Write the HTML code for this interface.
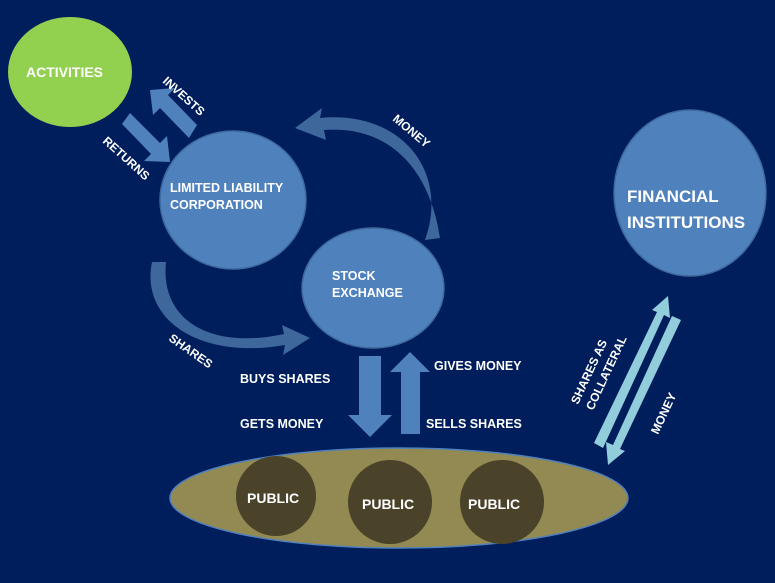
<!DOCTYPE html>
<html><head><style>
body{margin:0;background:#001d5c;}
svg{display:block}
text{font-family:"Liberation Sans",Arial,sans-serif;font-weight:bold;fill:#fff}
</style></head><body>
<svg width="775" height="583" viewBox="0 0 775 583" xmlns="http://www.w3.org/2000/svg">
<rect width="775" height="583" fill="#001d5c"/>
<!-- curved arrows -->
<path d="M425,240 C450,170 400,110 320,118 L322,108 L295,128 L326,140 L324,130 C390,125 430,170 440,238 Z" fill="#3e679c"/>
<path d="M152,262 C140,320 200,360 285,345 L283,355 L310,338 L282,325 L284,334 C210,350 160,320 166,262 Z" fill="#3e679c"/>
<!-- invests / returns -->
<polygon points="197,125 168,95 175,88 150,90 153,115 160,108 189,138" fill="#4f81bd"/>
<polygon points="122,124 151,154 144,161 170,162 167,136 160,143 130,113" fill="#4f81bd"/>
<!-- down / up arrows -->
<polygon points="359,356 381,356 381,415 392,415 370,437 348,415 359,415" fill="#4f81bd"/>
<polygon points="401,434 420,434 420,372 430,372 410,352 390,372 401,372" fill="#4f81bd"/>
<!-- light blue arrows -->
<polygon points="594,443 603,448 664,315 670,318 668,296 652,310 657,312" fill="#92cddc"/>
<polygon points="681,320 672,316 613,445 606,442 608,465 625,451 620,449" fill="#92cddc"/>
<!-- nodes -->
<ellipse cx="70" cy="72" rx="62" ry="55" fill="#92d050"/>
<ellipse cx="233" cy="200" rx="73" ry="69" fill="#4f81bd" stroke="#3d6a9e" stroke-width="1.5"/>
<ellipse cx="373" cy="288" rx="71" ry="60" fill="#4f81bd" stroke="#3d6a9e" stroke-width="1.5"/>
<ellipse cx="690" cy="193" rx="76" ry="83" fill="#4f81bd" stroke="#3d6a9e" stroke-width="1.5"/>
<ellipse cx="399" cy="498" rx="229" ry="50" fill="#938953" stroke="#4f81bd" stroke-width="1.5"/>
<circle cx="276" cy="496" r="40" fill="#4a4229"/>
<circle cx="390" cy="502" r="42" fill="#4a4229"/>
<circle cx="502" cy="502" r="42" fill="#4a4229"/>
<!-- labels -->
<text x="26" y="77" font-size="14">ACTIVITIES</text>
<text x="170" y="192" font-size="12.5">LIMITED LIABILITY</text>
<text x="170" y="209" font-size="12.5">CORPORATION</text>
<text x="332" y="280" font-size="12.5">STOCK</text>
<text x="332" y="297" font-size="12.5">EXCHANGE</text>
<text x="627" y="202" font-size="17">FINANCIAL</text>
<text x="627" y="228" font-size="17">INSTITUTIONS</text>
<text x="247" y="503" font-size="14">PUBLIC</text>
<text x="362" y="509" font-size="14">PUBLIC</text>
<text x="468" y="509" font-size="14">PUBLIC</text>
<text x="240" y="383" font-size="12.5">BUYS SHARES</text>
<text x="240" y="428" font-size="12.5">GETS MONEY</text>
<text x="434" y="370" font-size="12.5">GIVES MONEY</text>
<text x="426" y="428" font-size="12.5">SELLS SHARES</text>
<text transform="translate(162,82) rotate(42)" font-size="12">INVESTS</text>
<text transform="translate(102,142) rotate(42)" font-size="12">RETURNS</text>
<text transform="translate(392,120) rotate(40)" font-size="12">MONEY</text>
<text transform="translate(168,340) rotate(35)" font-size="12">SHARES</text>
<text transform="translate(578,405) rotate(-65)" font-size="12">SHARES AS</text>
<text transform="translate(593,411) rotate(-65)" font-size="12">COLLATERAL</text>
<text transform="translate(658,435) rotate(-65)" font-size="12">MONEY</text>
</svg>
</body></html>
